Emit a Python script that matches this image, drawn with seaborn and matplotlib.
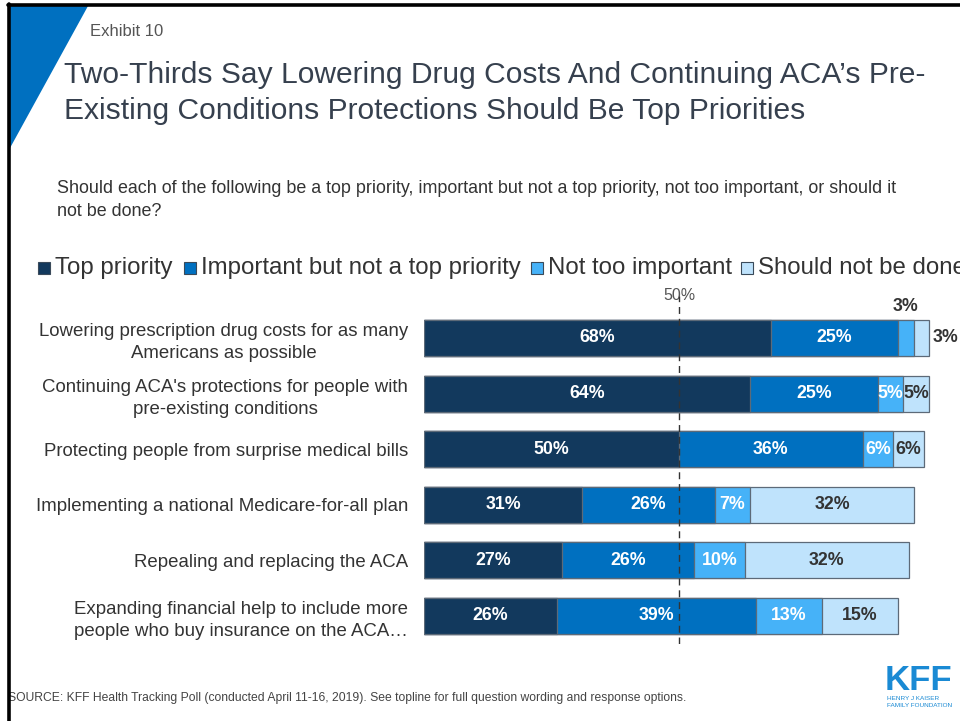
import matplotlib
matplotlib.use("Agg")
import matplotlib.pyplot as plt
from matplotlib import font_manager
from matplotlib.patches import Polygon, Rectangle
from matplotlib.lines import Line2D
import numpy as np
import pandas as pd
import seaborn as sns

# ---- data -------------------------------------------------------------
categories = [
    "Lowering prescription drug costs for as many\nAmericans as possible",
    "Continuing ACA's protections for people with\npre-existing conditions",
    "Protecting people from surprise medical bills",
    "Implementing a national Medicare-for-all plan",
    "Repealing and replacing the ACA",
    "Expanding financial help to include more\npeople who buy insurance on the ACA\u2026",
]
responses = ["Top priority", "Important but not a top priority",
             "Not too important", "Should not be done"]
top_priority = [68, 64, 50, 31, 27, 26]
important = [25, 25, 36, 26, 26, 39]
not_too_important = [3, 5, 6, 7, 10, 13]
should_not_be_done = [3, 5, 6, 32, 32, 15]

colors = ["#12395d", "#0070c0", "#46b2f8", "#bfe3fc"]
label_colors = ["white", "white", "white", "#333333"]
edge = "#5d6a78"
text_dark = "#333333"

# ---- style ------------------------------------------------------------
sns.set_theme(style="white")
plt.rcParams["font.family"] = ["Liberation Sans", "DejaVu Sans"]

W, H = 960, 721
fig = plt.figure(figsize=(W / 100, H / 100), dpi=100)


def fx(px):
    return px / W


def fy(py):
    return 1 - py / H


# ---- frame decoration -------------------------------------------------
fig.patches.append(Polygon([(fx(10), fy(6)), (fx(88), fy(6)), (fx(10), fy(148))],
                           closed=True, transform=fig.transFigure,
                           facecolor="#0070c0", edgecolor="none", zorder=0))
fig.lines.append(Line2D([fx(8), fx(960)], [fy(5), fy(5)], transform=fig.transFigure,
                        color="black", lw=2.6, zorder=5))
fig.lines.append(Line2D([fx(9), fx(9)], [fy(4), fy(721)], transform=fig.transFigure,
                        color="black", lw=2.6, zorder=5))

fig.text(fx(90), fy(31), "Exhibit 10", fontsize=12, color="#555555",
         ha="left", va="center")
fig.text(fx(64), fy(93),
         "Two-Thirds Say Lowering Drug Costs And Continuing ACA\u2019s Pre-\n"
         "Existing Conditions Protections Should Be Top Priorities",
         fontsize=21.6, color="#36404e", ha="left", va="center", linespacing=1.38)
fig.text(fx(57), fy(200),
         "Should each of the following be a top priority, important but not a top priority, "
         "not too important, or should it\nnot be done?",
         fontsize=12.9, color=text_dark, ha="left", va="center", linespacing=1.45)

# ---- legend row -------------------------------------------------------
legend_marker_x = [38, 184, 531, 741]
for k, (name, mx) in enumerate(zip(responses, legend_marker_x)):
    fig.patches.append(Rectangle((fx(mx), fy(274)), fx(12), 12 / H,
                                 transform=fig.transFigure, facecolor=colors[k],
                                 edgecolor="#3a4a5a", lw=0.8, zorder=3))
    fig.text(fx(mx + 17), fy(268), name, fontsize=17.3, color=text_dark,
             ha="left", va="center")

# ---- stacked bars -----------------------------------------------------
df = pd.DataFrame({
    "category": categories,
    responses[0]: top_priority,
    responses[1]: important,
    responses[2]: not_too_important,
    responses[3]: should_not_be_done,
})
vals = df[responses].to_numpy(dtype=float)
cum = vals.cumsum(axis=1)
for k in range(len(responses)):
    df[f"cum_{k}"] = cum[:, k]

ax = fig.add_axes([fx(424), fy(643.8), fx(960) - fx(424), (643.8 - 296.3) / H])

# Overlay cumulative totals from the widest layer down to the narrowest
for k in range(len(responses) - 1, -1, -1):
    sns.barplot(data=df, x=f"cum_{k}", y="category", orient="h",
                color=colors[k], saturation=1, width=0.65,
                edgecolor=edge, linewidth=0.9, ax=ax, zorder=2)

ax.set_xlim(0, 536 / 5.1)
ax.set_ylim(5.5, -0.75)
ax.set_xlabel("")
ax.set_ylabel("")
ax.set_xticks([])
for s in ax.spines.values():
    s.set_visible(False)
ax.tick_params(axis="y", length=0, pad=11.5, labelsize=13.4, labelcolor=text_dark)
for lab in ax.get_yticklabels():
    lab.set_multialignment("center")
    lab.set_linespacing(1.38)

# value labels
for i in range(len(categories)):
    left = 0.0
    for k in range(len(responses)):
        v = vals[i, k]
        txt = f"{v:.0f}%"
        if v < 4 and k == 2:
            ax.text(left + v / 2, i - 0.575, txt, ha="center", va="center",
                    fontsize=12.8, fontweight="bold", color=text_dark, clip_on=False)
        elif v < 4 and k == 3:
            ax.text(left + v + 0.8, i, txt, ha="left", va="center",
                    fontsize=12.8, fontweight="bold", color=text_dark, clip_on=False)
        else:
            ax.text(left + v / 2, i, txt, ha="center", va="center",
                    fontsize=12.8, fontweight="bold", color=label_colors[k], zorder=5)
        left += v

# 50% reference line
ax.axvline(50, ymin=0, ymax=1, color="#333333", lw=1.0,
           linestyle=(0, (5, 3.5)), zorder=4)
ax.text(50, -0.77, "50%", ha="center", va="center", fontsize=11.5,
        color="#555555", clip_on=False)

# ---- footer -----------------------------------------------------------
fig.text(fx(8), fy(698),
         "SOURCE: KFF Health Tracking Poll (conducted April 11-16, 2019). "
         "See topline for full question wording and response options.",
         fontsize=8.7, color="#444444", ha="left", va="center")

names = {f.name for f in font_manager.fontManager.ttflist}
logo_family = ["Liberation Sans Narrow", "Liberation Sans"] if "Liberation Sans Narrow" in names \
    else ["Liberation Sans"]
fig.text(fx(918), fy(680), "KFF", fontsize=25, fontweight="bold", color="#1a8ad4",
         ha="center", va="center", family=logo_family)
fig.text(fx(887), fy(702), "HENRY J KAISER\nFAMILY FOUNDATION", fontsize=4.6,
         color="#1a8ad4", ha="left", va="center", linespacing=1.3)

fig.savefig("out.png", dpi=100)
